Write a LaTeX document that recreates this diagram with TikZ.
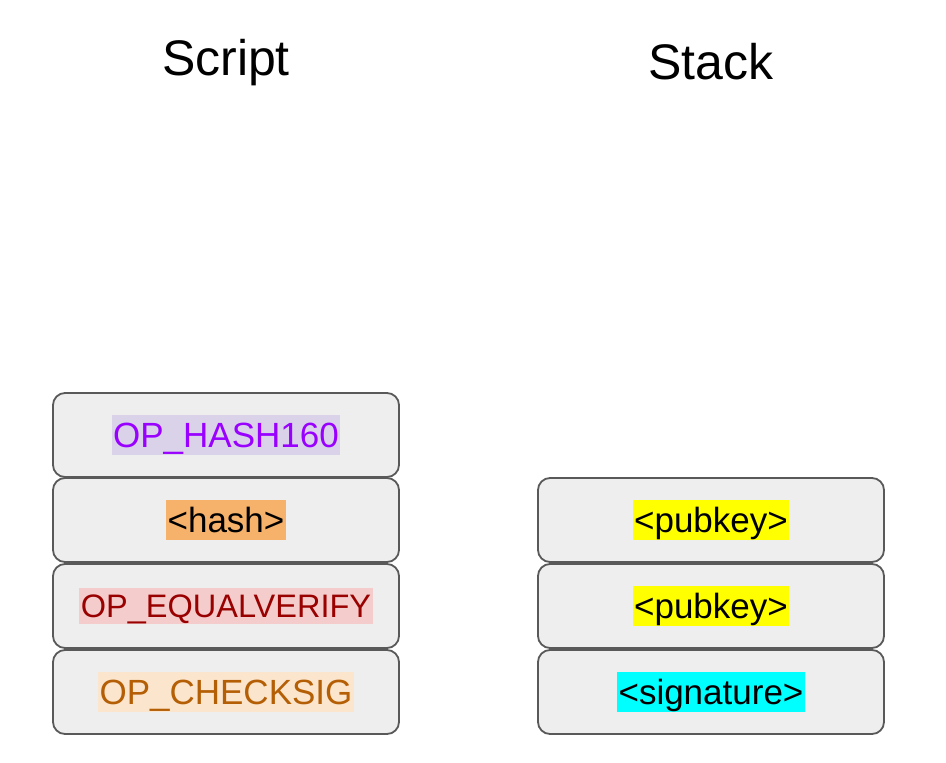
\documentclass[tikz,border=0pt]{standalone}
\usepackage{fontspec}
\setmainfont{Liberation Sans}
\definecolor{cellfill}{HTML}{EEEEEE}
\definecolor{celledge}{HTML}{595959}
\definecolor{hlhash}{HTML}{D9D2E9}
\definecolor{txhash}{HTML}{9900FF}
\definecolor{hlval}{HTML}{F6B26B}
\definecolor{hleq}{HTML}{F4CCCC}
\definecolor{txeq}{HTML}{990000}
\definecolor{hlsig}{HTML}{FCE5CD}
\definecolor{txsig}{HTML}{B45F06}
\definecolor{hlpub}{HTML}{FFFF00}
\definecolor{hlsgn}{HTML}{00FFFF}
\tikzset{
  cell/.style={draw=celledge, line width=1.8pt, fill=cellfill, rounded corners=12pt,
    minimum width=346pt, minimum height=84pt, inner sep=0pt},
  label/.style={inner ysep=0pt, inner xsep=1.5pt, font=\fontsize{35}{40}\selectfont,
    text height=31.7pt, text depth=7.4pt},
  smalllabel/.style={label, font=\fontsize{32.5}{38}\selectfont,
    text height=29.4pt, text depth=6.9pt},
  heading/.style={font=\fontsize{50}{58}\selectfont, inner sep=0pt, anchor=base}
}
\begin{document}
\begin{tikzpicture}[x=1pt, y=-1pt]
\useasboundingbox (0,0) rectangle (946,763);
% column headings
\node[heading] (hscript) at (226,75) {Script};
\node[heading] (hstack) at (711,79) {Stack};
% script column
\node[cell] (s1) at (226,435) {};
\node[cell] (s2) at (226,520) {};
\node[cell] (s3) at (226,606) {};
\node[cell] (s4) at (226,692) {};
\node[label, fill=hlhash, text=txhash] (t1) at (s1) {OP\_HASH160};
\node[label, fill=hlval] (t2) at (s2) {<hash>};
\node[smalllabel, fill=hleq, text=txeq] (t3) at (s3) {OP\_EQUALVERIFY};
\node[label, fill=hlsig, text=txsig] (t4) at (s4) {OP\_CHECKSIG};
% stack column
\node[cell] (k1) at (711,520) {};
\node[cell] (k2) at (711,606) {};
\node[cell] (k3) at (711,692) {};
\node[label, fill=hlpub] (u1) at (k1) {<pubkey>};
\node[label, fill=hlpub] (u2) at (k2) {<pubkey>};
\node[label, fill=hlsgn] (u3) at (k3) {<signature>};
\end{tikzpicture}
\end{document}
